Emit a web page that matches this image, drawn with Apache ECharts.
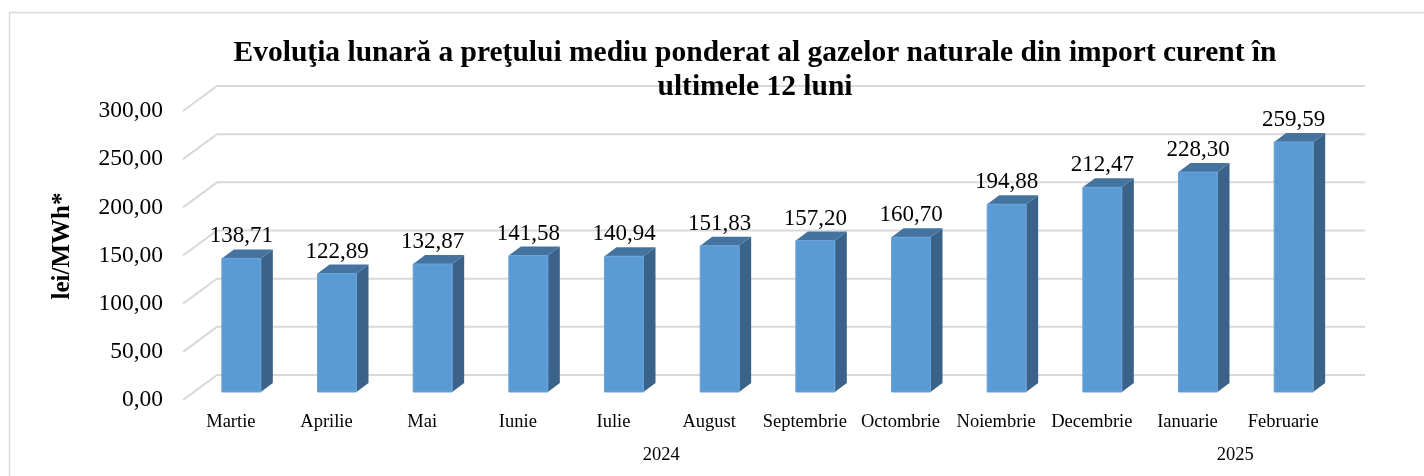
<!DOCTYPE html>
<html>
<head>
<meta charset="utf-8">
<script src="https://cdn.jsdelivr.net/npm/echarts@6/dist/echarts.min.js"></script>
<style>
html, body { margin: 0; padding: 0; background: #fff; }
#chart { width: 1424px; height: 476px; }
</style>
</head>
<body>
<div id="chart"></div>
<script>
// date
var months = ['Martie', 'Aprilie', 'Mai', 'Iunie', 'Iulie', 'August', 'Septembrie', 'Octombrie', 'Noiembrie', 'Decembrie', 'Ianuarie', 'Februarie'];
var prices = [138.71, 122.89, 132.87, 141.58, 140.94, 151.83, 157.20, 160.70, 194.88, 212.47, 228.30, 259.59];
var years = ['2024', '2025'];
var yearStart = [0, 10];
var yearEnd = [9, 11];
var yTicks = [0, 50, 100, 150, 200, 250, 300];

var serif = 'Liberation Serif, Times New Roman, serif';
var gridColor = '#d9d9d9';
// adancimea (3D)
var wallDx = 34, wallDy = -25;
var barDx = 12, barDy = -9;
var barOffX = 10.5, barOffY = -8, barW = 39;

function fmt(v) {
    return v.toFixed(2).replace('.', ',');
}

var chart = echarts.init(document.getElementById('chart'));

chart.setOption({
    backgroundColor: '#fff',
    animation: false,
    title: {
        text: 'Evoluţia lunară a preţului mediu ponderat al gazelor naturale din import curent în\nultimele 12 luni',
        left: 750,
        textAlign: 'center',
        top: 31,
        textStyle: {fontFamily: serif, fontWeight: 'bold', fontSize: 29.5, lineHeight: 34, color: '#000'}
    },
    graphic: [
        {
            type: 'rect', silent: true, z: -10,
            shape: {x: 9.5, y: 12.5, width: 1500, height: 600},
            style: {fill: 'none', stroke: gridColor, lineWidth: 1.5}
        },
        {
            type: 'text', rotation: Math.PI / 2, x: 63, y: 246,
            style: {
                text: 'lei/MWh*', fontFamily: serif, fontWeight: 'bold', fontSize: 25,
                fill: '#000', align: 'center', verticalAlign: 'middle'
            }
        }
    ],
    grid: {left: 183, right: 93, top: 111, bottom: 76},
    xAxis: {
        type: 'category',
        data: months,
        axisLine: {show: false},
        axisTick: {show: false},
        axisLabel: {interval: 0, margin: 13, fontFamily: serif, fontSize: 18.5, color: '#000'}
    },
    yAxis: {
        type: 'value',
        min: 0, max: 300, interval: 50,
        splitLine: {show: false},
        axisLine: {show: false},
        axisTick: {show: false},
        axisLabel: {margin: 20, fontFamily: serif, fontSize: 23.5, color: '#000', formatter: fmt}
    },
    series: [
        {
            // liniile de grila pe perete + podea
            type: 'custom',
            silent: true,
            z: 1,
            clip: false,
            data: yTicks.map(function (v) { return [0, v]; }),
            renderItem: function (params, api) {
                var band = api.size([1, 0])[0];
                var p = api.coord([0, api.value(1)]);
                var left = p[0] - band / 2;
                var right = api.coord([months.length - 1, 0])[0] + band / 2;
                var y = p[1];
                return {
                    type: 'polyline',
                    shape: {points: [[left, y], [left + wallDx, y + wallDy], [right + wallDx, y + wallDy]]},
                    style: {fill: 'none', stroke: gridColor, lineWidth: 2}
                };
            }
        },
        {
            type: 'custom',
            z: 5,
            clip: false,
            data: prices.map(function (v, i) { return [i, v]; }),
            renderItem: function (params, api) {
                var top = api.coord([api.value(0), api.value(1)]);
                var base = api.coord([api.value(0), 0]);
                var cx = top[0] + barOffX;
                var xl = cx - barW / 2, xr = cx + barW / 2;
                var yt = top[1] + barOffY, yb = base[1] + barOffY;
                return {
                    type: 'group',
                    children: [
                        {
                            type: 'polygon',
                            shape: {points: [[xr, yt], [xr + barDx, yt + barDy], [xr + barDx, yb + barDy], [xr, yb]]},
                            style: {fill: '#3b6389'}
                        },
                        {
                            type: 'polygon',
                            shape: {points: [[xl, yt], [xl + barDx, yt + barDy], [xr + barDx, yt + barDy], [xr, yt]]},
                            style: {fill: '#44739f'}
                        },
                        {
                            type: 'rect',
                            shape: {x: xl, y: yt, width: barW, height: yb - yt},
                            style: {fill: '#5b9bd5', stroke: '#6aa3d8', lineWidth: 1}
                        },
                        {
                            type: 'text',
                            x: cx, y: yt + barDy - 13,
                            style: {
                                text: fmt(api.value(1)), fontFamily: serif, fontSize: 23,
                                fill: '#000', align: 'center', verticalAlign: 'middle'
                            }
                        }
                    ]
                };
            }
        },
        {
            // anii sub luni
            type: 'custom',
            silent: true,
            clip: false,
            data: years.map(function (y, i) { return [yearStart[i], yearEnd[i]]; }),
            renderItem: function (params, api) {
                var a = api.coord([api.value(0), 0]);
                var b = api.coord([api.value(1), 0]);
                return {
                    type: 'text',
                    x: (a[0] + b[0]) / 2, y: a[1] + 55,
                    style: {
                        text: years[params.dataIndex], fontFamily: serif, fontSize: 18.5,
                        fill: '#000', align: 'center', verticalAlign: 'middle'
                    }
                };
            }
        }
    ]
});
</script>
</body>
</html>
